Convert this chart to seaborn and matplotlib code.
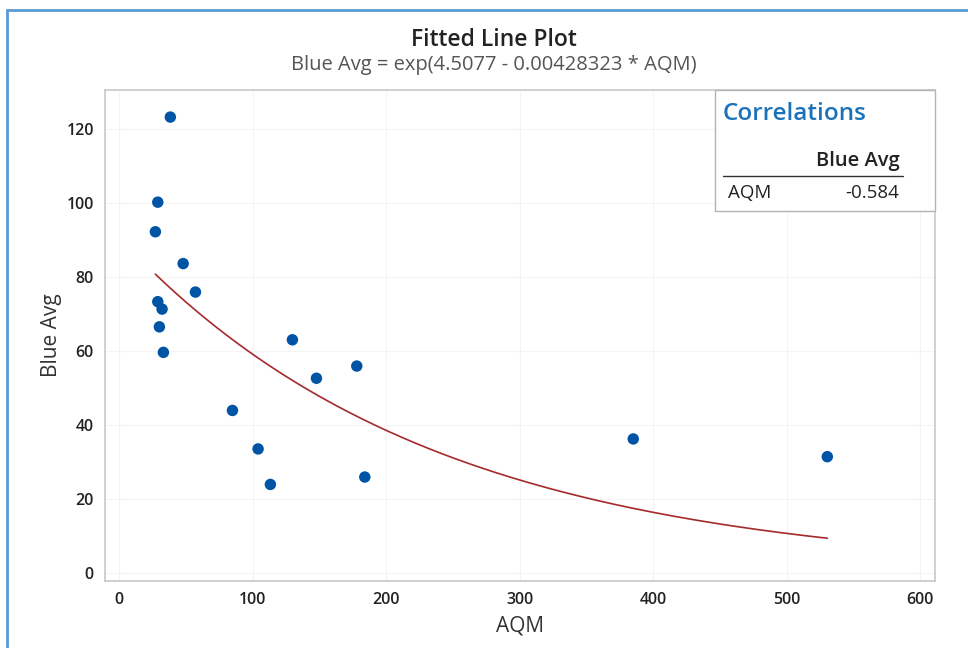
import numpy as np
import pandas as pd
import matplotlib
matplotlib.use("Agg")
import matplotlib.pyplot as plt
from matplotlib.patches import Rectangle
import seaborn as sns

# data
aqm = [38.4, 29.0, 27.2, 48.0, 57.2, 29.0, 32.2, 30.2, 33.2, 129.8,
       147.8, 178.0, 84.9, 104.1, 113.3, 184.0, 385.0, 530.3]
blue_avg = [123.2, 100.2, 92.2, 83.6, 75.9, 73.3, 71.3, 66.5, 59.6, 63.0,
            52.6, 55.9, 43.9, 33.5, 23.9, 25.9, 36.2, 31.4]
b0, b1 = 4.5077, -0.00428323
corr = -0.584
x_ticks = [0, 100, 200, 300, 400, 500, 600]
y_ticks = [0, 20, 40, 60, 80, 100, 120]

df = pd.DataFrame({"AQM": aqm, "Blue Avg": blue_avg})
xs = np.linspace(min(aqm), max(aqm), 200)
fit = pd.DataFrame({"AQM": xs, "Blue Avg": np.exp(b0 + b1 * xs)})

sns.set_theme(style="white")
plt.rcParams["font.family"] = ["Open Sans", "DejaVu Sans"]

fig = plt.figure(figsize=(9.68, 6.48), dpi=100)
ax = fig.add_axes([0.1085, 0.1034, 0.8575, 0.7576])

ax.grid(True, color="#f4f4f4", linewidth=0.8)
ax.set_axisbelow(True)
sns.lineplot(data=fit, x="AQM", y="Blue Avg", ax=ax, color="#a52a2a", linewidth=1.2)
sns.scatterplot(data=df, x="AQM", y="Blue Avg", ax=ax, color="#0054a6", s=68,
                edgecolor="none", zorder=3)

ax.set_xlim(-10.5, 611)
ax.set_ylim(-2.2, 130.5)
ax.set_xticks(x_ticks)
ax.set_yticks(y_ticks)
ax.tick_params(axis="both", direction="out", length=4, width=0.8, color="#999999",
               labelsize=11.5, labelcolor="#222222", pad=4)
for lab in ax.get_xticklabels() + ax.get_yticklabels():
    lab.set_fontweight("semibold")
for sp in ax.spines.values():
    sp.set_color("#c8c8c8")
    sp.set_linewidth(1.2)
ax.set_xlabel("AQM", fontsize=15, color="#333333", labelpad=5)
ax.set_ylabel("Blue Avg", fontsize=15, color="#333333", labelpad=3)

fig.text(0.51, 0.938, "Fitted Line Plot", ha="center", va="center", fontsize=16.5,
         fontweight="semibold", color="#222222")
fig.text(0.51, 0.900, "Blue Avg = exp(4.5077 - 0.00428323 * AQM)", ha="center",
         va="center", fontsize=14.5, color="#555555")

# correlations box
bx0, by0, bw, bh = 715 / 968, 1 - 211 / 648, 220 / 968, 121 / 648
fig.patches.append(Rectangle((bx0, by0), bw, bh, transform=fig.transFigure,
                             facecolor="white", edgecolor="#b4b4b4", linewidth=1, zorder=5))
fig.text(723 / 968, 1 - 114 / 648, "Correlations", ha="left", va="center",
         fontsize=17.5, fontweight="semibold", color="#1a72bb", zorder=6)
fig.text(900 / 968, 1 - 161 / 648, "Blue Avg", ha="right", va="center",
         fontsize=14.5, fontweight="semibold", color="#222222", zorder=6)
fig.add_artist(plt.Line2D([723 / 968, 903 / 968], [1 - 176 / 648] * 2,
                          color="#333333", linewidth=1, zorder=6))
fig.text(728 / 968, 1 - 193 / 648, "AQM", ha="left", va="center",
         fontsize=13.5, color="#222222", zorder=6)
fig.text(899 / 968, 1 - 193 / 648, f"{corr:.3f}", ha="right", va="center",
         fontsize=13.5, color="#222222", zorder=6)

# blue frame
fig.patches.append(Rectangle((7 / 968, -0.1), 1.2, 1 - 10 / 648 + 0.1,
                             transform=fig.transFigure, facecolor="none",
                             edgecolor="#5b9bd5", linewidth=2, zorder=10))

fig.savefig("out.png", dpi=100)
